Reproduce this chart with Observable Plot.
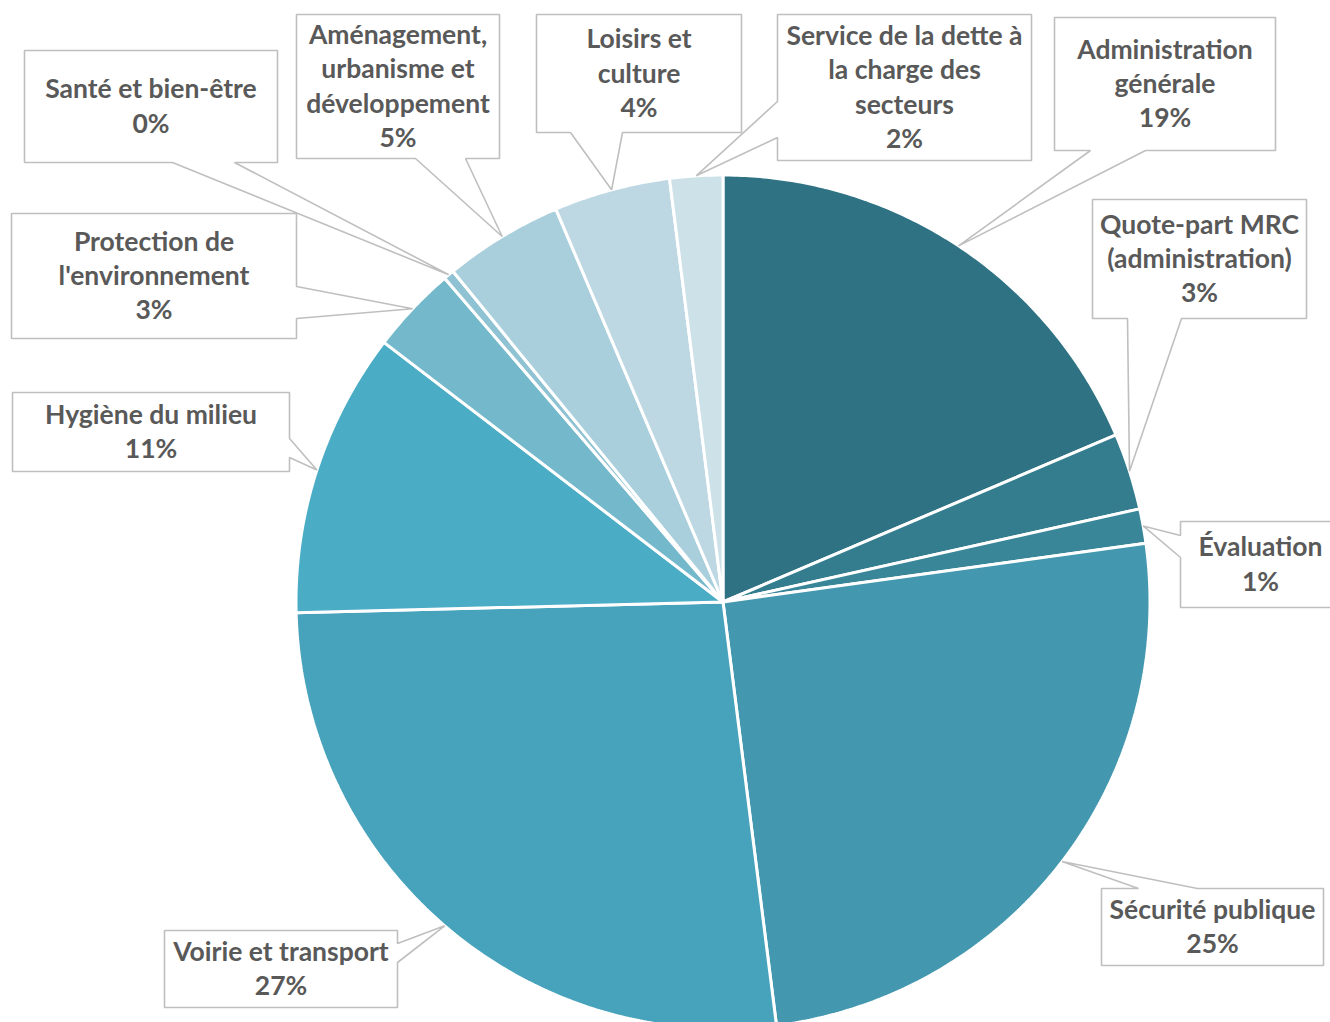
<!DOCTYPE html>
<html><head><meta charset="utf-8">
<script src="https://cdn.jsdelivr.net/npm/d3@7"></script>
<script src="https://cdn.jsdelivr.net/npm/@observablehq/plot@0.6"></script>
<style>body{margin:0;background:#fff;overflow:hidden} #chart{width:1330px;height:1022px}</style>
</head><body><div id="chart"></div>
<script>
// ---- data ----
const categories = [
  "Administration générale",
  "Quote-part MRC (administration)",
  "Évaluation",
  "Sécurité publique",
  "Voirie et transport",
  "Hygiène du milieu",
  "Protection de l'environnement",
  "Santé et bien-être",
  "Aménagement, urbanisme et développement",
  "Loisirs et culture",
  "Service de la dette à la charge des secteurs"
];
const values = [18.6, 2.9, 1.3, 25.2, 26.6, 10.8, 3.3, 0.4, 4.5, 4.4, 2.0];
const colors = ["#2e7283", "#347d8f", "#3a8699", "#4397ae", "#47a2bb", "#4aacc5",
                "#74b8cc", "#8fc2d2", "#a9cfdc", "#bdd8e2", "#cde1e8"];

// ---- layout (pixel space) ----
const W = 1330, H = 1022;
const cx = 722.5, cy = 601.5, R = 427;
const callouts = [
  {box: [1054, 17, 1275, 150], side: "bottom", base: [1090, 1145], breaks: [1, 1]},
  {box: [1092, 199, 1306, 318], side: "bottom", base: [1127, 1181], breaks: [2, 1]},
  {box: [1180, 521, 1340, 607], side: "left", base: [535, 557], breaks: [1]},
  {box: [1101, 888, 1323, 965], side: "top", base: [1138, 1197], breaks: [2]},
  {box: [164, 930, 397, 1007], side: "right", base: [943, 962], breaks: [3]},
  {box: [12, 392, 289, 471], side: "right", base: [438, 457], breaks: [3]},
  {box: [11, 213, 296, 338], side: "right", base: [286, 318], breaks: [2, 1]},
  {box: [24, 50, 277, 162], side: "bottom", base: [172, 234], breaks: [3]},
  {box: [296, 14, 499, 158], side: "bottom", base: [415, 465], breaks: [1, 2, 1]},
  {box: [536, 14, 741, 132], side: "bottom", base: [570, 622], breaks: [2, 1]},
  {box: [777, 14, 1031, 160], side: "left", base: [101, 137], breaks: [5, 3, 1]}
];

// ---- geometry from data ----
const arcs = d3.pie().sort(null).value(d => d)(values);
const pt = (a, r) => [cx + r * Math.sin(a), cy - r * Math.cos(a)];

const slicePts = [];
arcs.forEach((a, i) => {
  const name = categories[i];
  slicePts.push({name, x: cx, y: cy});
  const n = Math.max(2, Math.ceil((a.endAngle - a.startAngle) / (Math.PI / 360)));
  for (let k = 0; k <= n; k++) {
    const t = a.startAngle + (a.endAngle - a.startAngle) * k / n;
    const [x, y] = pt(t, R);
    slicePts.push({name, x, y});
  }
});

const calloutPts = [];
const labels = [];
callouts.forEach((c, i) => {
  const name = categories[i];
  const mid = (arcs[i].startAngle + arcs[i].endAngle) / 2;
  const tip = pt(mid, R);
  const [x1, y1, x2, y2] = c.box;
  const [b1, b2] = c.base;
  let poly;
  if (c.side === "bottom") poly = [[x1,y1],[x2,y1],[x2,y2],[b2,y2],tip,[b1,y2],[x1,y2]];
  else if (c.side === "top") poly = [[x1,y1],[b1,y1],tip,[b2,y1],[x2,y1],[x2,y2],[x1,y2]];
  else if (c.side === "left") poly = [[x1,y1],[x2,y1],[x2,y2],[x1,y2],[x1,b2],tip,[x1,b1]];
  else poly = [[x1,y1],[x2,y1],[x2,b1],tip,[x2,b2],[x2,y2],[x1,y2]];
  poly.forEach(([x, y]) => calloutPts.push({name, x, y}));
  const words = name.split(" ");
  const lines = [];
  let w = 0;
  c.breaks.forEach(n => { lines.push(words.slice(w, w + n).join(" ")); w += n; });
  lines.push(Math.round(values[i]) + "%");
  labels.push({name, x: (x1 + x2) / 2, y: (y1 + y2) / 2 - 2, text: lines.join("\n")});
});

const chart = Plot.plot({
  width: W, height: H, margin: 0,
  style: {background: "white"},
  x: {domain: [0, W], range: [0, W], axis: null},
  y: {domain: [0, H], range: [0, H], axis: null},
  color: {domain: categories, range: colors},
  marks: [
    Plot.line(slicePts, {x: "x", y: "y", z: "name", fill: "name", stroke: "white",
      strokeWidth: 3, strokeLinejoin: "miter", curve: "linear-closed"}),
    Plot.line(calloutPts, {x: "x", y: "y", z: "name", fill: "white", stroke: "#bfbfbf",
      strokeWidth: 1.6, strokeLinejoin: "miter", curve: "linear-closed"}),
    Plot.text(labels, {x: "x", y: "y", text: "text", fill: "#595959",
      fontFamily: "Lato", fontWeight: "bold", fontSize: 26.5, lineHeight: 1.3})
  ]
});
document.getElementById("chart").append(chart);
</script>
</body></html>
